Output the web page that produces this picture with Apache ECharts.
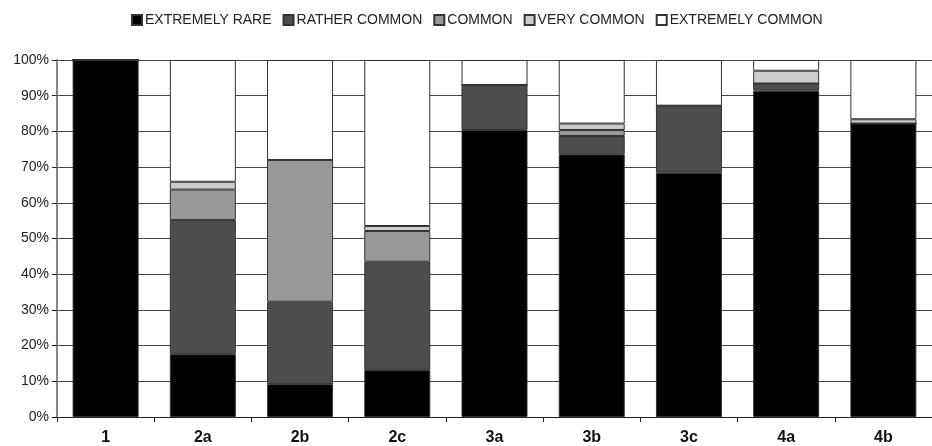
<!DOCTYPE html>
<html>
<head>
<meta charset="utf-8">
<script src="https://cdn.jsdelivr.net/npm/echarts@6/dist/echarts.min.js"></script>
<style>html,body{margin:0;padding:0;background:#fff;}#c{width:932px;height:446px;}</style>
</head>
<body>
<div id="c"></div>
<script>
var categories = ['1', '2a', '2b', '2c', '3a', '3b', '3c', '4a', '4b'];
var extremelyRare   = [100, 17.6,  9.2, 13.2, 80.4, 73.6, 68.4, 91.4, 82.2];
var ratherCommon    = [0,   37.6, 23.1, 30.3, 12.6,  5.1, 18.8,  2.0,  0];
var common          = [0,    8.5, 39.7,  8.6,  0,    1.7,  0,    0,    0];
var veryCommon      = [0,    2.2,  0,    1.4,  0,    1.8,  0,    3.6,  1.2];
var extremelyCommon = [0,   34.1, 28.0, 46.5,  7.0, 17.8, 12.8,  3.0, 16.6];
var yTicks = [0, 10, 20, 30, 40, 50, 60, 70, 80, 90, 100];

var seriesDefs = [
  ['EXTREMELY RARE', extremelyRare, '#000000'],
  ['RATHER COMMON', ratherCommon, '#4d4d4d'],
  ['COMMON', common, '#999999'],
  ['VERY COMMON', veryCommon, '#cccccc'],
  ['EXTREMELY COMMON', extremelyCommon, '#ffffff']
];

var chart = echarts.init(document.getElementById('c'), null, {renderer: 'canvas'});
chart.setOption({
  animation: false,
  backgroundColor: '#ffffff',
  textStyle: {fontFamily: 'Liberation Sans, Arial, sans-serif'},
  legend: {
    top: 8,
    left: 126,
    itemWidth: 10,
    itemHeight: 10,
    itemGap: 11,
    icon: 'rect',
    textStyle: {fontSize: 14, color: '#222', padding: [0, 0, 0, -2]},
    data: seriesDefs.map(function (d) { return d[0]; })
  },
  grid: {left: 57, right: -9, top: 60, bottom: 29, containLabel: false},
  xAxis: {
    type: 'category',
    data: categories,
    axisLine: {show: true, lineStyle: {color: '#222', width: 1}},
    axisTick: {show: true, length: 5, lineStyle: {color: '#222'}},
    axisLabel: {fontSize: 16, fontWeight: 'bold', color: '#111', margin: 13},
    splitLine: {show: false}
  },
  yAxis: {
    type: 'value',
    min: 0,
    max: 100,
    interval: 10,
    axisLine: {show: true, lineStyle: {color: '#888', width: 2}},
    axisTick: {show: true, length: 5, lineStyle: {color: '#222'}},
    axisLabel: {fontSize: 14, color: '#222', margin: 8, formatter: function (v) { return yTicks.indexOf(v) >= 0 ? v + '%' : ''; }},
    splitLine: {show: true, lineStyle: {color: '#444', width: 1}}
  },
  series: seriesDefs.map(function (d) {
    return {
      name: d[0],
      type: 'bar',
      stack: 'total',
      data: d[1],
      barWidth: 66,
      itemStyle: {color: d[2], borderColor: '#333', borderWidth: 1},
      emphasis: {disabled: true}
    };
  })
});
</script>
</body>
</html>
